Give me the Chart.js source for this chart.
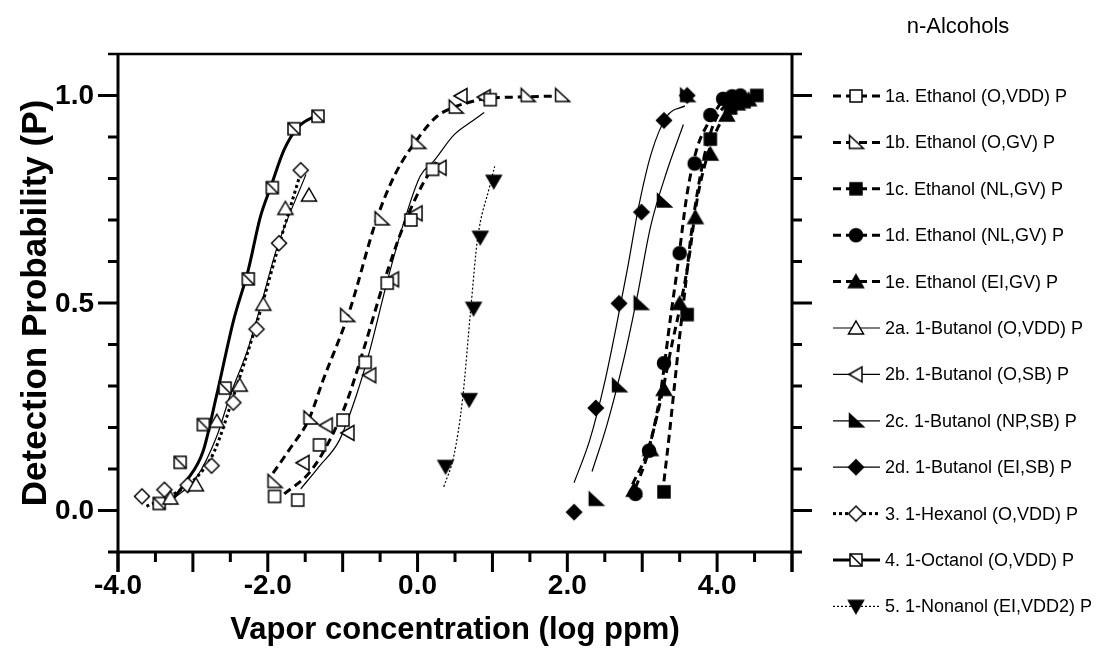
<!DOCTYPE html>
<html>
<head>
<meta charset="utf-8">
<script src="https://cdn.jsdelivr.net/npm/chart.js@4.4.0/dist/chart.umd.min.js"></script>
<style>
  html, body { margin: 0; padding: 0; background: #fff; }
  #wrap { width: 1109px; height: 659px; }
</style>
</head>
<body>
<div id="wrap"><canvas id="chart" width="1109" height="659"></canvas></div>
<script>
// ---- data: [log ppm, P] ----
const seriesNames = [
  '1a. Ethanol (O,VDD) P', '1b. Ethanol (O,GV) P', '1c. Ethanol (NL,GV) P',
  '1d. Ethanol (NL,GV) P', '1e. Ethanol (EI,GV) P', '2a. 1-Butanol (O,VDD) P',
  '2b. 1-Butanol (O,SB) P', '2c. 1-Butanol (NP,SB) P', '2d. 1-Butanol (EI,SB) P',
  '3. 1-Hexanol (O,VDD) P', '4. 1-Octanol (O,VDD) P', '5. 1-Nonanol (EI,VDD2) P'
];

const pts1a = [[-1.91, 0.034], [-1.60, 0.025], [-1.31, 0.158], [-0.995, 0.218], [-0.70, 0.357], [-0.405, 0.548], [-0.09, 0.70], [0.20, 0.822], [0.97, 0.99]];
const fit1a = [[-1.78, 0.04], [-1.45, 0.09], [-1.2, 0.16], [-0.95, 0.26], [-0.7, 0.40], [-0.45, 0.55], [-0.2, 0.68], [0.05, 0.78], [0.25, 0.84]];

const pts1b = [[-1.91, 0.07], [-1.43, 0.223], [-0.94, 0.47], [-0.48, 0.703], [0.01, 0.887], [0.51, 0.972], [1.47, 1.0], [1.93, 1.0]];
const fit1b = [[-1.93, 0.09], [-1.7, 0.15], [-1.45, 0.22], [-1.27, 0.31], [-0.91, 0.48], [-0.55, 0.70], [-0.30, 0.81], [0.04, 0.905], [0.26, 0.95], [0.49, 0.972], [0.94, 0.993], [1.3, 0.996], [1.93, 0.999]];

const pts1c = [[3.29, 0.045], [3.6, 0.472], [3.91, 0.895], [4.18, 0.97], [4.36, 0.985], [4.53, 1.0]];
const fit1c = [[3.29, 0.07], [3.36, 0.18], [3.43, 0.30], [3.5, 0.42], [3.57, 0.53], [3.65, 0.66], [3.74, 0.77], [3.85, 0.87], [4.0, 0.95], [4.3, 0.995]];

const pts1d = [[2.91, 0.04], [3.09, 0.144], [3.29, 0.355], [3.50, 0.62], [3.70, 0.836], [3.91, 0.953], [4.08, 0.992], [4.2, 0.998], [4.31, 1.0]];
const fit1d = [[2.91, 0.054], [3.07, 0.135], [3.24, 0.279], [3.38, 0.468], [3.47, 0.584], [3.6, 0.764], [3.73, 0.872], [3.87, 0.93], [4.04, 0.98]];

const pts1e = [[2.89, 0.049], [3.11, 0.147], [3.29, 0.292], [3.50, 0.499], [3.71, 0.706], [3.91, 0.859], [4.13, 0.953], [4.27, 0.98], [4.42, 0.99]];
const fit1e = [[2.87, 0.063], [3.07, 0.142], [3.24, 0.261], [3.4, 0.403], [3.51, 0.495], [3.62, 0.603], [3.73, 0.746], [3.87, 0.854], [4.04, 0.933], [4.27, 0.98]];

const pts2a = [[-3.3, 0.03], [-2.96, 0.062], [-2.68, 0.215], [-2.375, 0.302], [-2.06, 0.497], [-1.765, 0.728], [-1.45, 0.76]];
const fit2a = [[-3.36, 0.016], [-2.955, 0.079], [-2.685, 0.177], [-2.505, 0.276], [-2.26, 0.392], [-2.1, 0.49], [-1.875, 0.634], [-1.49, 0.81]];

const pts2b = [[-1.53, 0.115], [-1.22, 0.205], [-0.93, 0.187], [-0.64, 0.326], [-0.335, 0.557], [-0.02, 0.716], [0.30, 0.826], [0.58, 0.999], [0.89, 0.996]];
const fit2b = [[-1.56, 0.052], [-1.315, 0.106], [-1.045, 0.169], [-0.82, 0.276], [-0.64, 0.384], [-0.414, 0.546], [-0.19, 0.69], [0.036, 0.806], [0.216, 0.842], [0.486, 0.905], [0.71, 0.936], [0.89, 0.959]];

const pts2c = [[2.38, 0.027], [2.69, 0.301], [2.98, 0.499], [3.29, 0.746], [3.6, 1.0]];
const fit2c = [[2.33, 0.094], [2.53, 0.207], [2.76, 0.369], [2.93, 0.513], [3.11, 0.683], [3.33, 0.818], [3.55, 0.93]];

const pts2d = [[2.09, -0.004], [2.38, 0.247], [2.69, 0.499], [2.99, 0.719], [3.29, 0.94], [3.6, 1.0]];
const fit2d = [[2.09, 0.067], [2.3, 0.17], [2.5, 0.31], [2.65, 0.44], [2.8, 0.58], [2.95, 0.73], [3.12, 0.86], [3.33, 0.95], [3.57, 0.975]];

const pts3 = [[-3.68, 0.034], [-3.38, 0.05], [-3.07, 0.061], [-2.75, 0.108], [-2.46, 0.26], [-2.15, 0.437], [-1.85, 0.644], [-1.56, 0.82]];
const fit3 = [[-3.62, 0.01], [-3.25, 0.04], [-2.95, 0.08], [-2.72, 0.14], [-2.45, 0.28], [-2.15, 0.45], [-1.85, 0.64], [-1.55, 0.82]];

const pts4 = [[-3.45, 0.017], [-3.17, 0.116], [-2.86, 0.207], [-2.57, 0.295], [-2.26, 0.558], [-1.94, 0.778], [-1.65, 0.92], [-1.33, 0.95]];
const fit4 = [[-3.32, 0.016], [-3.09, 0.07], [-2.865, 0.142], [-2.685, 0.276], [-2.46, 0.456], [-2.26, 0.58], [-2.10, 0.707], [-1.96, 0.78], [-1.78, 0.87], [-1.60, 0.923], [-1.33, 0.954]];

const pts5 = [[0.374, 0.106], [0.69, 0.267], [0.748, 0.487], [0.838, 0.658], [1.018, 0.793]];
const fit5 = [[0.35, 0.057], [0.486, 0.133], [0.60, 0.267], [0.71, 0.485], [0.80, 0.653], [0.96, 0.779], [1.03, 0.829]];

const xTickValues = [-4, -2, 0, 2, 4];
const xTickLabels = ['-4.0', '-2.0', '0.0', '2.0', '4.0'];
const yTickValues = [0, 0.5, 1];
const yTickLabels = ['0.0', '0.5', '1.0'];

// ---- markers ----
function makeMarker(shape, filled) {
    const s = 20, m = s / 2;
    const c = document.createElement('canvas');
    c.width = s;
    c.height = s;
    const g = c.getContext('2d');
    g.lineWidth = 1.5;
    g.strokeStyle = '#000';
    g.fillStyle = filled ? '#000' : '#fff';
    g.beginPath();
    if (shape === 'square' || shape === 'squareDiag') {
        g.rect(m - 6, m - 6, 12, 12);
    } else if (shape === 'circle') {
        g.arc(m, m, 6.5, 0, Math.PI * 2);
    } else if (shape === 'triUp') {
        g.moveTo(m, m - 7); g.lineTo(m + 7.5, m + 6); g.lineTo(m - 7.5, m + 6); g.closePath();
    } else if (shape === 'triDown') {
        g.moveTo(m, m + 7); g.lineTo(m + 7.5, m - 6); g.lineTo(m - 7.5, m - 6); g.closePath();
    } else if (shape === 'triLeft') {
        g.moveTo(m - 7, m); g.lineTo(m + 6, m - 7.5); g.lineTo(m + 6, m + 7.5); g.closePath();
    } else if (shape === 'rightTri') {
        g.moveTo(m - 6.5, m - 7); g.lineTo(m - 6.5, m + 6); g.lineTo(m + 7.5, m + 6); g.closePath();
    } else if (shape === 'diamond') {
        g.moveTo(m, m - 7.5); g.lineTo(m + 7.5, m); g.lineTo(m, m + 7.5); g.lineTo(m - 7.5, m); g.closePath();
    }
    g.fill();
    g.stroke();
    if (shape === 'squareDiag') {
        g.beginPath();
        g.moveTo(m - 6, m - 6);
        g.lineTo(m + 6, m + 6);
        g.stroke();
    }
    return c;
}

const dashThick = { width: 3, dash: [8, 5] };
const solidThin = { width: 1.2, dash: [] };
const dotThick = { width: 3, dash: [3, 3] };
const solidThick = { width: 3, dash: [] };
const dotThin = { width: 1.2, dash: [2, 2] };

const series = [
    { pts: pts1a, fit: fit1a, marker: makeMarker('square', false), line: dashThick },
    { pts: pts1b, fit: fit1b, marker: makeMarker('rightTri', false), line: dashThick },
    { pts: pts1c, fit: fit1c, marker: makeMarker('square', true), line: dashThick },
    { pts: pts1d, fit: fit1d, marker: makeMarker('circle', true), line: dashThick },
    { pts: pts1e, fit: fit1e, marker: makeMarker('triUp', true), line: dashThick },
    { pts: pts2a, fit: fit2a, marker: makeMarker('triUp', false), line: solidThin },
    { pts: pts2b, fit: fit2b, marker: makeMarker('triLeft', false), line: solidThin },
    { pts: pts2c, fit: fit2c, marker: makeMarker('rightTri', true), line: solidThin },
    { pts: pts2d, fit: fit2d, marker: makeMarker('diamond', true), line: solidThin },
    { pts: pts3, fit: fit3, marker: makeMarker('diamond', false), line: dotThick },
    { pts: pts4, fit: fit4, marker: makeMarker('squareDiag', false), line: solidThick },
    { pts: pts5, fit: fit5, marker: makeMarker('triDown', true), line: dotThin }
];

const toXY = arr => arr.map(p => ({ x: p[0], y: p[1] }));

const datasets = [];
series.forEach((s, i) => {
    datasets.push({
        label: seriesNames[i] + ' fit',
        data: toXY(s.fit),
        showLine: true,
        pointRadius: 0,
        borderColor: '#000',
        borderWidth: s.line.width,
        borderDash: s.line.dash,
        cubicInterpolationMode: 'monotone',
        fill: false,
        order: 2
    });
    datasets.push({
        label: seriesNames[i],
        data: toXY(s.pts),
        showLine: false,
        pointStyle: s.marker,
        pointRadius: 7,
        order: 1
    });
});

// ---- frame, ticks, labels, titles, legend ----
const framePlugin = {
    id: 'frame',
    afterDraw(chart) {
        const ctx = chart.ctx;
        const xs = chart.scales.x, ys = chart.scales.y;
        const X = v => xs.getPixelForValue(v);
        const Y = v => ys.getPixelForValue(v);
        const left = X(-4), right = X(5), top = Y(1.1), bottom = Y(-0.1);

        ctx.save();
        ctx.strokeStyle = '#000';
        ctx.lineCap = 'butt';

        // frame lines
        ctx.lineWidth = 2.5;
        ctx.beginPath(); ctx.moveTo(left - 10, top); ctx.lineTo(right + 10, top); ctx.stroke();
        ctx.lineWidth = 3;
        ctx.beginPath(); ctx.moveTo(left - 10, bottom); ctx.lineTo(right + 10, bottom); ctx.stroke();
        ctx.beginPath(); ctx.moveTo(left, top - 1); ctx.lineTo(left, bottom + 20); ctx.stroke();
        ctx.beginPath(); ctx.moveTo(right, top - 1); ctx.lineTo(right, bottom + 20); ctx.stroke();

        // y ticks, both sides
        for (let k = 0; k <= 10; k++) {
            const v = k / 10;
            const len = (k % 5 === 0) ? 20 : 10;
            ctx.beginPath();
            ctx.moveTo(left - len, Y(v)); ctx.lineTo(left, Y(v));
            ctx.moveTo(right, Y(v)); ctx.lineTo(right + len, Y(v));
            ctx.stroke();
        }
        // x ticks
        for (let k = -8; k <= 10; k++) {
            const v = k / 2;
            const len = (k % 2 === 0) ? 20 : 10;
            ctx.beginPath();
            ctx.moveTo(X(v), bottom); ctx.lineTo(X(v), bottom + len);
            ctx.stroke();
        }

        // tick labels
        ctx.fillStyle = '#000';
        ctx.font = "bold 28px 'Liberation Sans', Arial, sans-serif";
        ctx.textAlign = 'right';
        ctx.textBaseline = 'middle';
        yTickValues.forEach((v, i) => ctx.fillText(yTickLabels[i], left - 24, Y(v) + 1));
        ctx.textAlign = 'center';
        ctx.textBaseline = 'top';
        xTickValues.forEach((v, i) => ctx.fillText(xTickLabels[i], X(v), bottom + 20));

        // axis titles
        ctx.font = "bold 31px 'Liberation Sans', Arial, sans-serif";
        ctx.textBaseline = 'middle';
        ctx.fillText('Vapor concentration (log ppm)', (left + right) / 2, 630);
        ctx.save();
        ctx.font = "bold 35px 'Liberation Sans', Arial, sans-serif";
        ctx.translate(36, (top + bottom) / 2);
        ctx.rotate(-Math.PI / 2);
        ctx.fillText('Detection Probability (P)', 0, 0);
        ctx.restore();

        // legend
        ctx.font = "22px 'Liberation Sans', Arial, sans-serif";
        ctx.textAlign = 'center';
        ctx.fillText('n-Alcohols', 958, 27);
        ctx.font = "18px 'Liberation Sans', Arial, sans-serif";
        ctx.textAlign = 'left';
        series.forEach((s, i) => {
            const ly = 96 + i * 46.4;
            ctx.lineWidth = s.line.width;
            ctx.setLineDash(s.line.dash);
            ctx.beginPath(); ctx.moveTo(833, ly); ctx.lineTo(880, ly); ctx.stroke();
            ctx.setLineDash([]);
            ctx.drawImage(s.marker, 856 - s.marker.width / 2, ly - s.marker.height / 2);
            ctx.fillText(seriesNames[i], 885, ly + 1);
        });
        ctx.restore();
    }
};

new Chart(document.getElementById('chart'), {
    type: 'scatter',
    data: { datasets: datasets },
    options: {
        responsive: false,
        animation: false,
        layout: { padding: { left: 118, right: 317, top: 54, bottom: 107 } },
        scales: {
            x: { type: 'linear', min: -4, max: 5, display: false },
            y: { type: 'linear', min: -0.1, max: 1.1, display: false }
        },
        plugins: {
            legend: { display: false },
            tooltip: { enabled: false }
        }
    },
    plugins: [framePlugin]
});
</script>
</body>
</html>
